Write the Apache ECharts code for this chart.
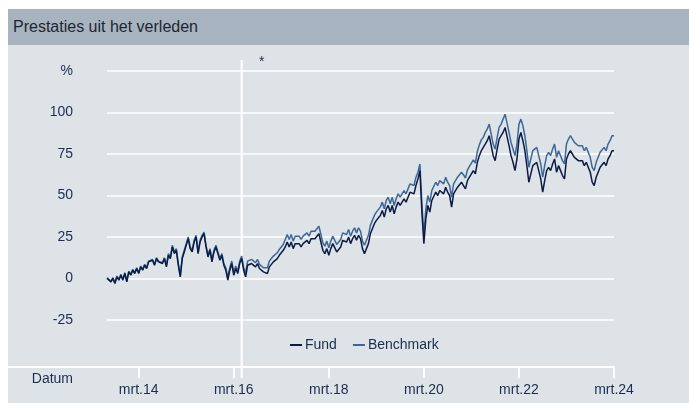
<!DOCTYPE html>
<html>
<head>
<meta charset="utf-8">
<title>Prestaties uit het verleden</title>
<script src="https://cdn.jsdelivr.net/npm/echarts@6/dist/echarts.min.js"></script>
<style>
  body { margin: 0; background: #ffffff; }
  #wrap { position: relative; width: 689px; height: 403px; }
  #header { position: absolute; left: 8px; top: 9px; width: 681px; height: 36px; background: #a7b4bf;
            font-family: 'Liberation Sans', Arial, sans-serif; font-size: 16px; color: #1e2633;
            line-height: 36px; padding-left: 5px; box-sizing: border-box; }
  #panel { position: absolute; left: 8px; top: 45px; width: 681px; height: 358px; background: #dde3e7; }
  #chart { position: absolute; left: 0; top: 0; width: 689px; height: 403px; }
</style>
</head>
<body>
<div id="wrap">
  <div id="header">Prestaties uit het verleden</div>
  <div id="panel"></div>
  <div id="chart"></div>
</div>
<script>
// half-monthly dates, jul 2013 .. mrt 2024
var dates = [];
for (var y = 2013; y <= 2024; y++) {
    for (var m = 1; m <= 12; m++) {
        if (y === 2013 && m < 7) continue;
        var mm = (m < 10 ? '0' : '') + m;
        dates.push(y + '-' + mm + '-01');
        if (y === 2024 && m === 3) break;
        dates.push(y + '-' + mm + '-15');
    }
}

var fund = [
    0,-1,-2,0,-3,1,-1,2,-1,3,
    -2,4,2,5,3,6,3,7,5,8,
    6,10,9,11,8,12,10,11,9,12,
    7,14,12,19,15,17,8,1,12,16,
    20,24,18,16,22,25,15,22,25,27,
    19,13,17,10,16,19,15,11,14,8,
    5,-1,5,9,2,6,3,9,12,5,
    1,8,7,9,8,7,9,6,5,4,
    3,3,7,8,10,11,12,14,15,17,
    19,22,19,22,18,21,22,21,19,21,
    20,23,21,24,23,24,25,27,22,17,
    15,18,14,18,21,20,16,15,19,23,
    24,22,25,21,24,26,23,26,24,18,
    15,16,21,27,30,33,35,36,38,41,
    37,42,44,40,44,39,43,46,44,43,
    48,46,49,52,53,51,56,60,65,40,
    21,36,44,40,47,47,52,50,53,54,
    51,55,52,50,43,51,52,55,56,58,
    56,54,59,61,62,65,63,70,74,77,
    78,81,83,86,80,74,71,78,84,86,
    88,91,92,80,74,70,65,72,84,88,
    83,77,68,58,63,68,69,70,65,60,
    52,59,65,67,65,69,72,64,68,65,
    62,60,72,75,77,75,73,74,71,70,
    71,68,70,67,64,58,56,61,64,67,
    66,70,68,72,74,77,77
];

var benchmark = [
    0.5,-0.5,-1.5,0.5,-2.5,1.5,-0.5,2.5,-0.5,3.5,
    -1.5,4.5,2.5,5.5,3.5,6.5,3.5,7.5,5.5,8.5,
    6.5,10.5,9.5,11.5,8.5,12.5,10.5,11.5,9.5,12.5,
    8,15,13,20,16,18,9,2,13,17,
    21,25,19,17,23,26,16,23,26,28,
    20,14,18,11,17,20,16,12,15,9,
    6.5,0.5,6.5,10.5,3.5,7.5,4.5,10.5,13.5,6.5,
    3.5,10.5,9.5,11.5,10.5,9.5,11.5,8.5,7.5,6.5,
    6.5,6.5,10.5,11.5,13.5,14.5,15.5,17.5,18.5,20.5,
    23.5,26.5,23.5,26.5,22.5,25.5,26.5,25.5,23.5,25.5,
    24.5,27.5,25.5,28.5,27.5,28.5,29.5,31.5,26.5,21.5,
    19.5,22.5,18.5,22.5,25.5,24.5,20.5,19.5,23.5,27.5,
    28.5,26.5,29.5,25.5,28.5,30.5,27.5,30.5,28.5,22.5,
    20,21,26,32,35,38,40,41,43,46,
    42,47,49,45,49,44,48,51,49,48,
    53,51,54,57,58,56,61,64,69,45,
    26,42,50,46,53,53,58,56,59,60,
    57,61,58,56,49,57,58,61,62,64,
    62.5,60.5,65.5,67.5,68.5,71.5,69.5,76.5,80.5,83.5,
    85,88,90,93,87,81,78,85,91,93,
    96,99,100,88,82,78,74,81,93,96,
    92,86,77,67,72,77,78,79,74,69,
    61,68,74,76,74,78,81,73,77,74,
    71,69,81,84,86,84,82,83,80,79,
    80,77,79,76,73,67,65,70,73,76,
    75,79,77,81,83,86,86
];

var markerDate = '2016-05-01';
var textColor = '#1d2c4f';
var font = "'Liberation Sans', Arial, sans-serif";

function isTick(idx, val) {
    var yr = +val.slice(0, 4);
    return val.slice(5) === '03-01' && yr % 2 === 0;
}

var chart = echarts.init(document.getElementById('chart'));
chart.setOption({
    animation: false,
    backgroundColor: 'transparent',
    textStyle: { fontFamily: font },
    grid: { left: 107, right: 75, top: 71, bottom: 83 },
    legend: {
        data: ['Fund', 'Benchmark'],
        left: 285, top: 333,
        icon: 'rect', itemWidth: 12, itemHeight: 2, itemGap: 16,
        textStyle: { fontSize: 14, color: textColor, padding: [0, 0, 0, -2] }
    },
    xAxis: {
        type: 'category',
        data: dates,
        boundaryGap: false,
        offset: 47,
        axisLine: { onZero: false, lineStyle: { color: '#ffffff', width: 2 } },
        axisTick: { interval: isTick, length: 11, lineStyle: { color: '#ffffff', width: 2 } },
        axisLabel: {
            interval: isTick, margin: 16, fontSize: 14, color: textColor,
            formatter: function (v) { return 'mrt.' + v.slice(2, 4); }
        },
        splitLine: { show: false }
    },
    yAxis: {
        type: 'value',
        min: -25, max: 125, interval: 25,
        axisLine: { show: false },
        axisTick: { show: false },
        axisLabel: {
            margin: 34, fontSize: 14, color: textColor,
            formatter: function (v) { return v === 125 ? '%' : v; }
        },
        splitLine: { lineStyle: { color: '#ffffff', width: 1.5 } }
    },
    series: [
        {
            name: 'Benchmark', type: 'line', data: benchmark, showSymbol: false,
            color: '#3d6797', lineStyle: { width: 1.5 }
        },
        {
            name: 'Fund', type: 'line', data: fund, showSymbol: false,
            color: '#0b1b45', lineStyle: { width: 1.5 }
        }
    ]
});

// marker line, axis extension and labels outside the grid
var mx = chart.convertToPixel({ xAxisIndex: 0 }, markerDate);
var gl = chart.convertToPixel({ xAxisIndex: 0 }, dates[0]);
chart.setOption({
    graphic: [
        { type: 'line', shape: { x1: 8, y1: 367, x2: gl, y2: 367 }, style: { stroke: '#ffffff', lineWidth: 2 } },
        { type: 'line', shape: { x1: mx, y1: 60, x2: mx, y2: 378 }, style: { stroke: '#ffffff', lineWidth: 2 }, z: 1 },
        { type: 'text', x: mx + 20, y: 62, style: { text: '*', font: '14px ' + font, fill: textColor, align: 'center', verticalAlign: 'middle' } },
        { type: 'text', x: 73, y: 379, style: { text: 'Datum', font: '14px ' + font, fill: textColor, align: 'right', verticalAlign: 'middle' } }
    ]
});
</script>
</body>
</html>
